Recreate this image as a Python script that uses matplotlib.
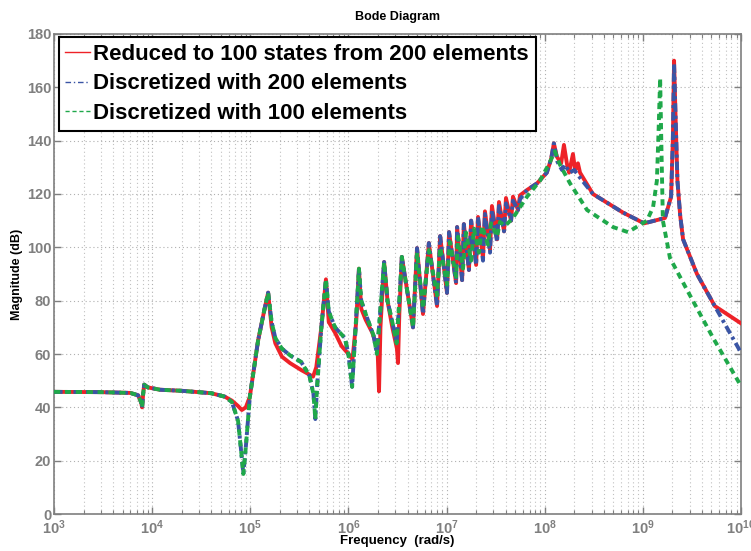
import numpy as np
import matplotlib
matplotlib.use("Agg")
import matplotlib.pyplot as plt
from matplotlib.lines import Line2D

# ---------------- data ----------------
labels = ["Reduced to 100 states from 200 elements",
          "Discretized with 200 elements",
          "Discretized with 100 elements"]

# Reduced model (red, solid)
red_f = [1e3, 3e3, 6e3, 7.2e3, 7.7e3, 7.9e3, 8.1e3, 8.3e3, 9e3, 1.2e4, 2e4, 4e4,
         5.5e4, 6.5e4, 7.5e4, 8.2e4, 9e4, 9.9e4, 1.2e5, 1.4e5, 1.52e5, 1.65e5, 1.8e5,
         2.1e5, 2.54e5, 3.3e5, 4.36e5, 4.7e5, 5.3e5, 5.9e5, 6.3e5, 7.3e5, 8.5e5, 1.0e6,
         1.1e6, 1.2e6, 1.28e6, 1.35e6, 1.5e6, 1.75e6, 1.98e6, 2.05e6, 2.12e6, 2.31e6,
         2.5e6, 2.8e6, 3.12e6, 3.2e6, 3.3e6, 3.5e6,
         4.55e6, 5.0e6, 5.75e6, 6.6e6, 8.0e6, 8.6e6, 1.01e7, 1.06e7, 1.25e7, 1.28e7,
         1.44e7, 1.5e7, 1.69e7, 1.78e7, 2.0e7, 2.09e7, 2.35e7, 2.46e7, 2.77e7, 2.9e7,
         3.27e7, 3.42e7, 3.85e7, 4.03e7, 4.54e7, 4.75e7, 5.35e7, 5.6e7, 6.6e7, 8.35e7,
         1.05e8, 1.16e8, 1.24e8, 1.33e8, 1.47e8, 1.57e8, 1.69e8, 1.77e8, 1.94e8, 2.04e8,
         2.18e8, 2.29e8, 3.1e8, 6.3e8, 1.03e9, 1.68e9, 1.94e9, 2.02e9, 2.08e9, 2.15e9,
         2.25e9, 2.4e9, 2.57e9, 3.56e9, 5.4e9, 1e10]
red_db = [45.8, 45.7, 45.4, 44.5, 42.0, 40.0, 45.0, 48.5, 47.5, 46.6, 46.2, 45.3,
          44.0, 42.5, 40.5, 39.0, 40.0, 44.0, 65.0, 77.0, 83.0, 70.0, 64.0,
          59.0, 56.6, 54.0, 51.5, 55.0, 70.0, 88.0, 72.0, 68.0, 63.0, 60.0,
          58.0, 72.0, 92.0, 77.0, 72.8, 68.0, 62.0, 46.0, 70.0, 94.5,
          80.0, 70.0, 62.0, 56.6, 75.0, 96.4,
          70.0, 99.7, 75.0, 101.6, 78.0, 104.2, 82.9, 105.7, 86.6, 107.6,
          87.7, 108.7, 91.5, 110.0, 93.4, 111.4, 96.0, 113.5, 99.0, 115.5,
          103.0, 117.0, 106.0, 118.5, 110.0, 119.0, 114.0, 119.5, 121.5, 124.0,
          128.0, 133.0, 139.0, 134.0, 131.5, 138.4, 131.0, 128.0, 135.0, 129.0,
          131.5, 128.0, 120.0, 113.0, 109.0, 111.0, 119.0, 140.0, 170.0, 150.0,
          125.0, 112.0, 103.0, 90.0, 78.0, 71.5]

# 200 elements (blue, dash-dot)
blue_f = [1e3, 3e3, 6e3, 7.2e3, 7.7e3, 7.9e3, 8.1e3, 8.3e3, 9e3, 1.2e4, 2e4, 4e4,
          5.5e4, 6.5e4, 7.5e4, 8e4, 8.5e4, 9e4, 9.9e4, 1.2e5, 1.4e5, 1.52e5, 1.65e5,
          1.8e5, 2.1e5, 2.54e5, 3.3e5, 4e5, 4.4e5, 4.6e5, 4.8e5, 5.3e5, 5.9e5, 6.3e5,
          7.3e5, 9.2e5, 1.0e6, 1.09e6, 1.15e6, 1.28e6, 1.35e6, 1.5e6, 1.8e6, 1.95e6,
          2.1e6, 2.31e6, 2.5e6, 2.8e6, 3.1e6, 3.3e6, 3.5e6,
          4.55e6, 5.0e6, 5.75e6, 6.6e6, 8.0e6, 8.6e6, 1.01e7, 1.06e7, 1.25e7, 1.28e7,
          1.44e7, 1.5e7, 1.69e7, 1.78e7, 2.0e7, 2.09e7, 2.35e7, 2.46e7, 2.77e7, 2.9e7,
          3.27e7, 3.42e7, 3.85e7, 4.03e7, 4.54e7, 4.75e7, 5.35e7, 5.6e7, 6.6e7, 8.35e7,
          1.05e8, 1.16e8, 1.24e8, 1.35e8, 1.5e8, 1.6e8, 1.8e8, 2.0e8, 2.3e8, 3.1e8,
          6.3e8, 1.03e9, 1.68e9, 1.94e9, 2.02e9, 2.08e9, 2.15e9, 2.25e9, 2.4e9, 2.57e9,
          3.56e9, 5.4e9, 1e10]
blue_db = [45.8, 45.7, 45.4, 44.5, 42.0, 40.0, 45.0, 48.5, 47.5, 46.6, 46.2, 45.3,
           44.0, 42.0, 35.0, 25.0, 15.0, 25.0, 44.0, 65.0, 77.0, 83.0, 72.0,
           66.0, 62.0, 59.5, 57.0, 52.0, 45.0, 35.6, 48.0, 70.0, 88.0, 76.0,
           70.0, 66.0, 60.0, 47.7, 62.0, 92.0, 80.0, 75.0, 67.0, 60.0,
           75.0, 94.5, 80.0, 72.0, 64.0, 80.0, 96.4,
           70.0, 99.7, 75.0, 101.6, 78.0, 104.2, 82.9, 105.7, 86.6, 107.6,
           87.7, 108.7, 91.5, 110.0, 93.4, 111.4, 95.0, 112.5, 98.0, 114.0,
           102.0, 115.5, 106.0, 116.5, 110.0, 117.5, 114.0, 118.0, 121.5, 124.0,
           128.0, 133.0, 139.0, 132.0, 129.0, 131.0, 128.0, 129.0, 126.0, 120.0,
           113.0, 109.0, 111.0, 119.0, 140.0, 169.0, 150.0, 125.0, 112.0, 103.0,
           90.0, 78.0, 60.5]

# 100 elements (green, dashed)
green_f = [1e3, 3e3, 6e3, 7.2e3, 7.7e3, 7.9e3, 8.1e3, 8.3e3, 9e3, 1.2e4, 2e4, 4e4,
           5.5e4, 6.5e4, 7.5e4, 8e4, 8.5e4, 9e4, 9.9e4, 1.2e5, 1.4e5, 1.52e5, 1.65e5,
           1.8e5, 2.1e5, 2.54e5, 3.3e5, 4e5, 4.4e5, 4.6e5, 4.8e5, 5.3e5, 5.9e5, 6.3e5,
           7.3e5, 9.2e5, 1.0e6, 1.09e6, 1.15e6, 1.28e6, 1.35e6, 1.5e6, 1.8e6, 1.95e6,
           2.1e6, 2.31e6, 2.5e6, 2.8e6, 3.1e6, 3.3e6, 3.5e6,
           4.55e6, 5.0e6, 5.75e6, 6.6e6, 8.0e6, 8.6e6, 1.01e7, 1.08e7, 1.25e7, 1.31e7,
           1.47e7, 1.58e7, 1.78e7, 1.9e7, 2.14e7, 2.3e7, 2.64e7, 2.84e7, 3.27e7, 3.5e7,
           3.94e7, 4.75e7, 6.6e7, 8.95e7, 1.13e8, 1.27e8, 1.43e8, 1.81e8, 2.7e8, 4.97e8,
           7.06e8, 1.1e9, 1.27e9, 1.39e9, 1.45e9, 1.5e9, 1.55e9, 1.6e9, 1.89e9, 2.82e9,
           5.2e9, 1e10]
green_db = [45.8, 45.7, 45.4, 44.5, 42.0, 40.0, 45.0, 48.5, 47.5, 46.6, 46.2, 45.3,
            44.0, 42.0, 35.0, 25.0, 15.0, 25.0, 44.0, 65.0, 77.0, 83.0, 72.0,
            66.0, 62.0, 59.5, 57.0, 52.0, 45.0, 35.6, 48.0, 70.0, 88.0, 76.0,
            70.0, 66.0, 60.0, 47.7, 62.0, 92.0, 80.0, 75.0, 67.0, 60.0,
            75.0, 94.5, 80.0, 72.0, 64.0, 80.0, 96.4,
            70.0, 98.0, 77.0, 99.0, 82.0, 100.0, 86.0, 102.0, 89.0, 104.0,
            92.0, 105.5, 95.0, 107.0, 98.0, 108.0, 101.0, 109.0, 104.0, 109.5,
            108.0, 111.0, 119.0, 125.0, 132.0, 136.0, 131.0, 124.0, 114.0, 107.6,
            105.7, 110.0, 115.0, 125.0, 145.0, 163.5, 135.0, 110.0, 96.0, 84.0,
            66.0, 48.0]

y_ticks = [0, 20, 40, 60, 80, 100, 120, 140, 160, 180]
x_decades = [3, 4, 5, 6, 7, 8, 9, 10]

# ---------------- style ----------------
plt.rcParams["font.family"] = ["Liberation Sans", "DejaVu Sans"]
plt.rcParams["mathtext.fontset"] = "custom"
plt.rcParams["mathtext.rm"] = "Liberation Sans:bold"
plt.rcParams["mathtext.bf"] = "Liberation Sans:bold"

RED = "#ee2228"
BLUE = "#3a55a5"
GREEN = "#1fa84a"
GRAY = "#7f7f7f"

fig = plt.figure(figsize=(7.51, 5.51), dpi=100)
ax = fig.add_axes([54 / 751, 1 - 514 / 551, 687 / 751, 480 / 551])

ax.plot(red_f, red_db, color=RED, lw=2.8, solid_joinstyle="round", zorder=3)
ax.plot(blue_f, blue_db, color=BLUE, lw=2.8, linestyle=(0, (2.2, 1.0, 0.8, 1.0)), zorder=4)
ax.plot(green_f, green_db, color=GREEN, lw=2.8, linestyle=(0, (1.6, 1.2)), zorder=5)

ax.set_xscale("log")
ax.set_xlim(1e3, 1e10)
ax.set_ylim(0, 180)
ax.set_yticks(y_ticks)
ax.set_yticklabels([str(v) for v in y_ticks])
ax.set_xticks([10.0 ** d for d in x_decades])
ax.set_xticklabels([r"$\mathbf{10^{%d}}$" % d for d in x_decades])
ax.xaxis.set_minor_locator(matplotlib.ticker.LogLocator(base=10, subs=np.arange(2, 10), numticks=50))
ax.xaxis.set_minor_formatter(matplotlib.ticker.NullFormatter())

ax.tick_params(which="both", direction="in", top=True, right=True, color=GRAY)
ax.tick_params(which="major", length=5, width=1, labelsize=10.5, labelcolor=GRAY)
ax.tick_params(axis="y", which="major", pad=2)
ax.tick_params(axis="x", which="major", pad=3)
ax.tick_params(which="minor", length=3, width=0.8)
for lab in ax.get_yticklabels():
    lab.set_fontweight("bold")
for sp in ax.spines.values():
    sp.set_color(GRAY)
    sp.set_linewidth(1.2)

ax.grid(True, which="major", linestyle=(0, (1, 2.5)), color="#b0b0b0", lw=0.8)
ax.grid(True, which="minor", axis="x", linestyle=(0, (1, 2.5)), color="#c0c0c0", lw=0.8)
ax.set_axisbelow(True)

ax.set_title("Bode Diagram", fontsize=9, fontweight="bold", pad=10)
ax.set_xlabel("Frequency  (rad/s)", fontsize=9.5, fontweight="bold", labelpad=-1)
ax.set_ylabel("Magnitude (dB)", fontsize=9, fontweight="bold", labelpad=3)

handles = [Line2D([], [], color=RED, lw=1.0),
           Line2D([], [], color=BLUE, lw=1.0, linestyle=(0, (4, 2, 1, 2))),
           Line2D([], [], color=GREEN, lw=1.0, linestyle=(0, (3, 2)))]
leg = ax.legend(handles, labels, loc="upper left", bbox_to_anchor=(0.007, 0.993),
                prop={"family": "Liberation Sans", "weight": "bold", "size": 16},
                handlelength=1.1, handletextpad=0.15, labelspacing=0.38,
                borderpad=0.3, borderaxespad=0.0, fancybox=False, framealpha=1)
leg.get_frame().set_edgecolor("black")
leg.get_frame().set_linewidth(1.5)
leg.set_zorder(10)

fig.savefig("out.png", dpi=100)
